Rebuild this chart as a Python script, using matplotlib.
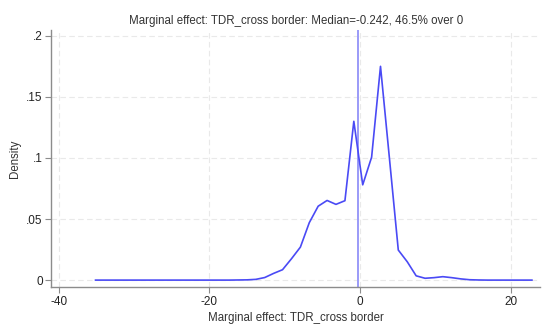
import matplotlib
matplotlib.use("Agg")
import matplotlib.pyplot as plt

plt.rcParams['font.family'] = ['Liberation Sans', 'DejaVu Sans']

# Kernel density evaluation points
x_vals = [-35.10, -33.92, -32.74, -31.55, -30.37, -29.19, -28.01, -26.83,
          -25.65, -24.47, -23.28, -22.10, -20.92, -19.74, -18.56, -17.38,
          -16.19, -15.01, -13.83, -12.65, -11.47, -10.29, -9.10, -7.92,
          -6.74, -5.56, -4.38, -3.20, -2.01, -0.83, 0.35, 1.53,
          2.71, 3.89, 5.07, 6.26, 7.44, 8.62, 9.80, 10.98,
          12.16, 13.35, 14.53, 15.71, 16.89, 18.07, 19.26, 20.44,
          21.62, 22.80]
density = [0.0, 0.0, 0.0, 0.0, 0.0, 0.0, 0.0, 0.0,
           0.0, 0.0, 0.0, 0.0, 0.0, 0.0, 0.0, 0.0,
           0.0001, 0.0002, 0.0006, 0.0021, 0.0055, 0.0085, 0.0175, 0.027,
           0.047, 0.0605, 0.0652, 0.062, 0.065, 0.130, 0.078, 0.1006,
           0.175, 0.100, 0.0246, 0.015, 0.0035, 0.0015, 0.002, 0.0028,
           0.002, 0.001, 0.0003, 0.0001, 0.0, 0.0, 0.0, 0.0,
           0.0, 0.0]
median_val = -0.242
title_text = "Marginal effect: TDR_cross border: Median=-0.242, 46.5% over 0"
x_label = "Marginal effect: TDR_cross border"
y_label = "Density"
x_ticks = [-40, -20, 0, 20]
x_ticklabels = ["-40", "-20", "0", "20"]
y_ticks = [0, 0.05, 0.1, 0.15, 0.2]
y_ticklabels = ["0", ".05", ".1", ".15", ".2"]

fig = plt.figure(figsize=(5.49, 3.35), dpi=100)
ax = fig.add_axes([0.093, 0.142, 0.891, 0.769])

ax.plot(x_vals, density, color='#4a4af5', lw=1.2, zorder=3)
ax.axvline(median_val, color='#9a9af8', lw=1.4, zorder=2)

ax.set_xlim(-41.0, 23.9)
ax.set_ylim(-0.006, 0.2049)
ax.set_xticks(x_ticks)
ax.set_xticklabels(x_ticklabels)
ax.set_yticks(y_ticks)
ax.set_yticklabels(y_ticklabels)

ax.grid(True, color='#e9e9e9', ls=(0, (5, 3)), lw=0.8, zorder=0)
for s in ['top', 'right']:
    ax.spines[s].set_visible(False)
for s in ['left', 'bottom']:
    ax.spines[s].set_color('#8c8c8c')
    ax.spines[s].set_linewidth(1.0)
ax.tick_params(axis='both', colors='#8c8c8c', labelcolor='#222222',
               labelsize=8.5, length=4, width=0.8, direction='out', pad=2)

ax.set_title(title_text, fontsize=8.3, color='#333333', pad=4)
ax.set_xlabel(x_label, fontsize=8.3, color='#333333', labelpad=3)
ax.set_ylabel(y_label, fontsize=8.3, color='#333333', labelpad=4)

fig.savefig("out.png", dpi=100)
